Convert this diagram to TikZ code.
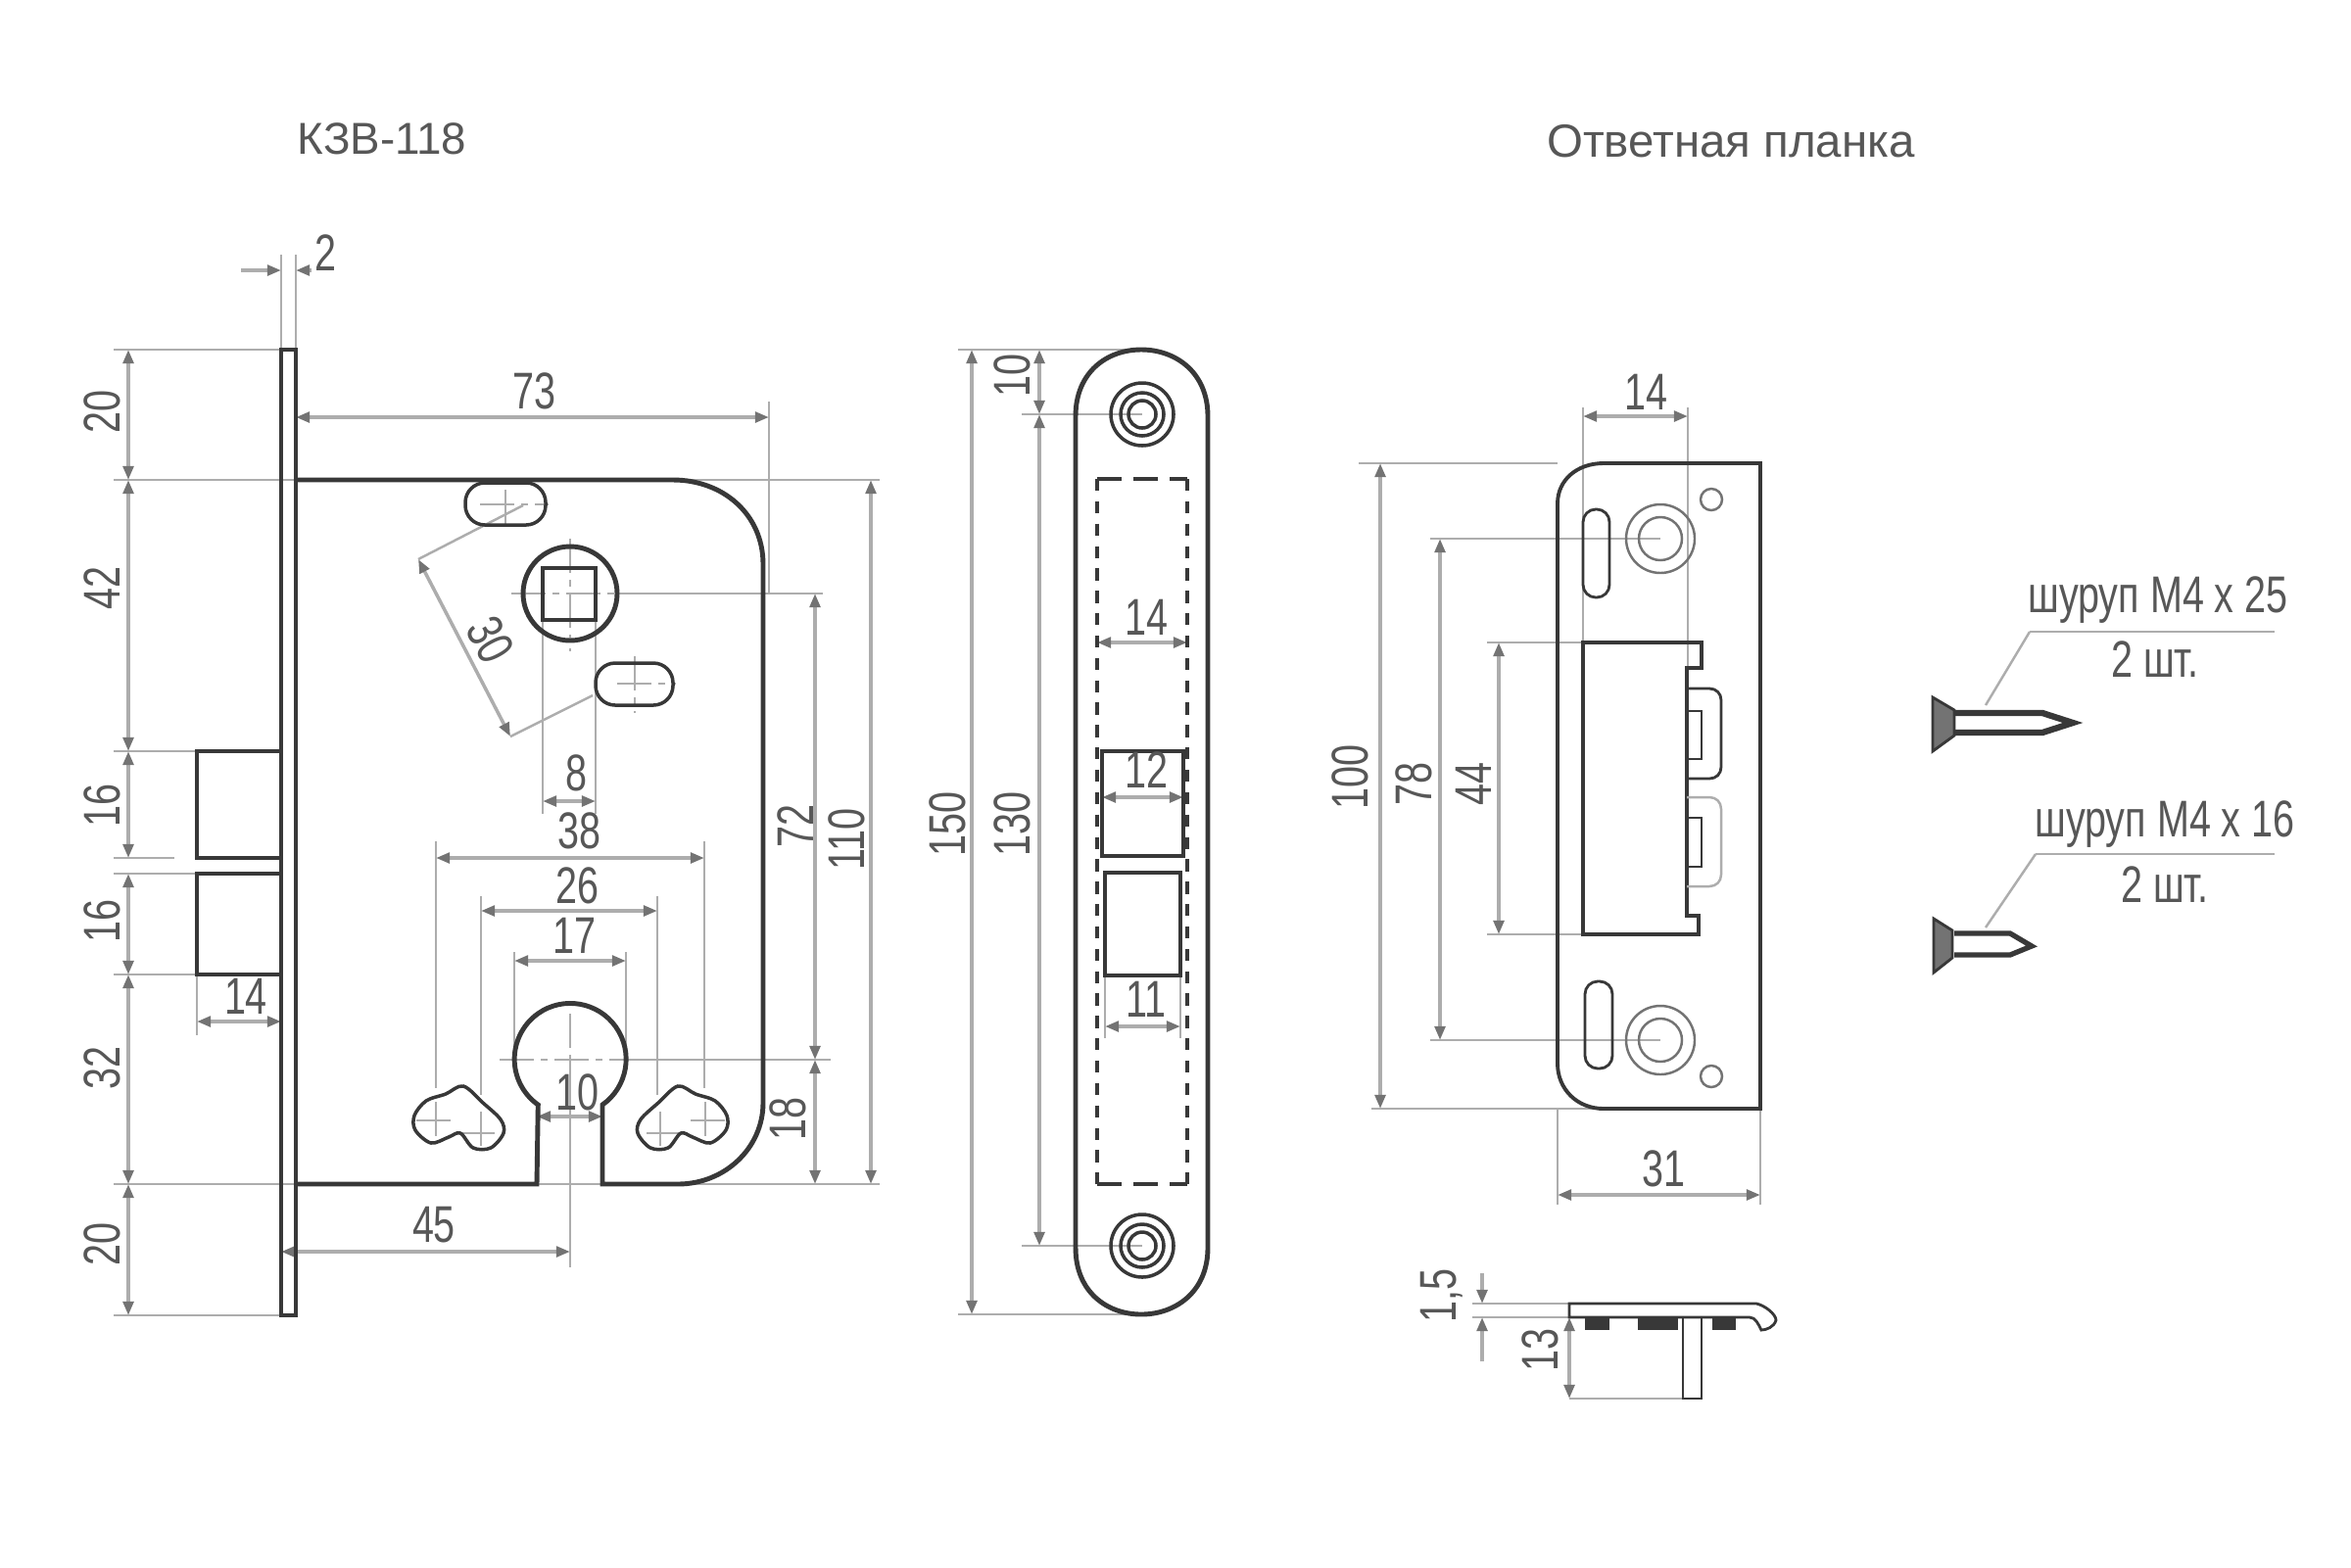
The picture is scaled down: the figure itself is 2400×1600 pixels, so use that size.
\documentclass[tikz,border=0pt]{standalone}
\usepackage{fontspec}
\setmainfont{Liberation Sans}[FakeStretch=0.75]
\newfontfamily\titlefont{Liberation Sans}
\usetikzlibrary{arrows.meta}
\definecolor{inkgray}{gray}{0.22}
\definecolor{dimgray}{gray}{0.68}
\definecolor{tipgray}{gray}{0.45}
\definecolor{labelgray}{gray}{0.34}
\tikzset{
  outline/.style={draw=inkgray,line width=1.4pt},
  fineline/.style={draw=inkgray,line width=0.8pt},
  extline/.style={draw=dimgray,line width=0.7pt},
  dimline/.style={draw=dimgray,line width=1pt,
    {Triangle[length=4pt,width=3pt,color=tipgray]}-{Triangle[length=4pt,width=3pt,color=tipgray]}},
  oneway/.style={draw=dimgray,line width=1pt,-{Triangle[length=4pt,width=3pt,color=tipgray]}},
  axisline/.style={draw=dimgray,line width=0.5pt,dash pattern=on 10pt off 2pt on 2pt off 2pt},
  sidelabel/.style={rotate=90}
}
\begin{document}
\begin{tikzpicture}
[x=0.1mm,y=-0.1mm,every node/.style={text=labelgray,inner sep=0pt,font=\fontsize{15}{15}\selectfont}]
  \useasboundingbox (0,0) rectangle (2400,1600);
  \fill[white] (0,0) rectangle (2400,1600);

  % titles
  \node (title1) at (390,142) {\titlefont\fontsize{13}{14}\selectfont КЗВ-118};
  \node (title2) at (1767,144) {\titlefont\fontsize{13.5}{14}\selectfont Ответная планка};

  % extension lines
  \foreach \ax/\ay/\bx/\by in {
    287/260/287/357, 302/260/302/357, 785/410/785/606,
    116/357/287/357, 116/490/898/490, 116/767/201/767, 116/876/178/876,
    116/892/201/892, 116/995/201/995, 116/1209/898/1209, 116/1343/287/1343,
    630/606/840/606, 640/1082/848/1082,
    554/633/554/831, 608/633/608/831,
    445/859/445/1111, 719/859/719/1111, 491/915/491/1118, 671/915/671/1118,
    525/972/525/1082, 639/972/639/1082, 582/1082/582/1294, 201/995/201/1057,
    427/571/534/516, 521/752/605/710,
    978/357/1165/357, 978/1342/1165/1342, 1043/423/1166/423, 1043/1272/1166/1272,
    1128/996/1128/1060, 1205/996/1205/1060,
    1616/416/1616/656, 1723/416/1723/703, 1387/473/1590/473, 1400/1132/1640/1132,
    1460/550/1695/550, 1460/1062/1695/1062, 1518/656/1616/656, 1518/954/1616/954,
    1590/1132/1590/1230, 1797/1132/1797/1230,
    1503/1331/1602/1331, 1503/1345/1602/1345, 1602/1428/1718/1428,
    2027/720/2072/645, 2072/645/2322/645, 2027/947/2078/872, 2078/872/2322/872}
    \draw[extline] (\ax,\ay) -- (\bx,\by);

  % centre lines
  \foreach \ax/\ay/\bx/\by in {
    516/500/516/540, 490/515/560/515, 648/670/648/728, 630/698/690/698,
    582/550/582/665, 522/606/640/606, 510/1082/650/1082, 582/1035/582/1082,
    425/1144/465/1144, 445/1125/445/1165, 470/1157/512/1157, 491/1135/491/1175,
    740/1144/700/1144, 720/1125/720/1165, 695/1157/653/1157, 674/1135/674/1175}
    \draw[axisline] (\ax,\ay) -- (\bx,\by);

  % dimension lines
  \foreach \ax/\ay/\bx/\by in {
    131/357/131/490, 131/490/131/767, 131/767/131/876, 131/892/131/995,
    131/995/131/1209, 131/1209/131/1343,
    302/426/785/426, 427/571/521/752, 554/818/608/818, 445/876/719/876,
    491/930/671/930, 525/981/639/981, 548/1140/615/1140, 201/1043/287/1043,
    287/1278/582/1278, 832/606/832/1082, 832/1082/832/1209, 889/490/889/1209,
    992/357/992/1342, 1061/357/1061/423, 1061/423/1061/1272, 1120/656/1212/656,
    1125/814/1208/814, 1128/1048/1205/1048,
    1616/425/1723/425, 1409/473/1409/1132, 1470/550/1470/1062, 1530/656/1530/954,
    1590/1220/1797/1220, 1602/1345/1602/1428}
    \draw[dimline] (\ax,\ay) -- (\bx,\by);
  \foreach \ax/\ay/\bx/\by in {
    246/276/287/276, 318/276/302/276, 1513/1300/1513/1331, 1513/1390/1513/1345}
    \draw[oneway] (\ax,\ay) -- (\bx,\by);

  % lock case
  \draw[outline] (287,357) rectangle (302,1343);
  \draw[outline] (302,490) -- (687,490) .. controls (738,490) and (779,525) .. (779,576)
    -- (779,1126) .. controls (779,1172) and (740,1209) .. (692,1209) -- (615,1209) -- (615,1128)
    arc[start angle=54.8,end angle=-234.8,radius=57] -- (548,1209) -- (302,1209);
  \draw[outline,line width=1.1pt] (287,767) -- (201,767) -- (201,876) -- (287,876);
  \draw[outline,line width=1.1pt] (287,892) -- (201,892) -- (201,995) -- (287,995);
  \draw[outline] (582,606) circle[radius=48];
  \draw[outline] (554,580) rectangle (608,633);
  \foreach \ax/\ay/\bx/\by in {475/493/557/536, 608/677/687/720}
    \draw[fineline,line width=1pt,rounded corners=2mm] (\ax,\ay) rectangle (\bx,\by);
  \draw[fineline,line width=1pt] plot[smooth cycle,tension=0.55] coordinates {
    (473,1109) (493,1126) (511,1143) (514,1157) (501,1172) (483,1172) (470,1157)
    (458,1161) (440,1167) (424,1154) (423,1139) (435,1124) (455,1117)};
  \draw[fineline,line width=1pt] plot[smooth cycle,tension=0.55] coordinates {
    (692,1109) (672,1126) (654,1143) (651,1157) (664,1172) (682,1172) (695,1157)
    (707,1161) (725,1167) (741,1154) (742,1139) (730,1124) (710,1117)};

  % face plate
  \draw[outline] (1098,425) .. controls (1098,380) and (1130,357) .. (1165,357)
    .. controls (1200,357) and (1233,380) .. (1233,425) -- (1233,1274)
    .. controls (1233,1319) and (1200,1342) .. (1165,1342)
    .. controls (1130,1342) and (1098,1319) .. (1098,1274) -- cycle;
  \foreach \hy in {423,1272}
    \foreach \hr in {32,22,14}
      \draw[fineline,line width=1pt] (1166,\hy) circle[radius=\hr];
  \foreach \dx in {1120,1212}
    \draw[fineline,line width=1.1pt,dash pattern=on 3.5pt off 3pt] (\dx,489) -- (\dx,1209);
  \foreach \dy in {489,1209}
    \draw[fineline,line width=1pt,dash pattern=on 7pt off 3.5pt] (1120,\dy) -- (1212,\dy);
  \draw[fineline,line width=1.1pt] (1125,767) rectangle (1208,874);
  \draw[fineline,line width=1.1pt] (1128,891) rectangle (1205,996);

  % strike plate
  \draw[fineline,line width=1.1pt] (1797,473) -- (1637,473) .. controls (1610,473) and (1590,490) .. (1590,514)
    -- (1590,1086) .. controls (1590,1112) and (1610,1132) .. (1637,1132) -- (1797,1132) -- cycle;
  \foreach \ax/\ay/\bx/\by in {1616/520/1643/610, 1618/1002/1646/1091}
    \draw[fineline,rounded corners=1.3mm] (\ax,\ay) rectangle (\bx,\by);
  \foreach \hy in {550,1062} {
    \draw[draw=tipgray,line width=0.7pt] (1695,\hy) circle[radius=35];
    \draw[draw=tipgray,line width=0.7pt] (1695,\hy) circle[radius=22];
  }
  \foreach \hy in {510,1099}
    \draw[draw=tipgray,line width=0.7pt] (1747,\hy) circle[radius=11];
  \draw[outline,line width=1.1pt] (1616,656) -- (1737,656) -- (1737,682) -- (1722,682) -- (1722,935)
    -- (1734,935) -- (1734,954) -- (1616,954) -- cycle;
  \draw[fineline] (1722,703) -- (1745,703) .. controls (1752,703) and (1757,708) .. (1757,715)
    -- (1757,783) .. controls (1757,790) and (1752,795) .. (1745,795) -- (1722,795);
  \draw[extline] (1722,814) -- (1745,814) .. controls (1752,814) and (1757,819) .. (1757,826)
    -- (1757,893) .. controls (1757,900) and (1752,905) .. (1745,905) -- (1722,905);
  \foreach \ay/\by in {726/775, 835/885}
    \draw[fineline] (1722,\ay) rectangle (1737,\by);

  % side view
  \draw[fineline] (1602,1345) -- (1602,1331) -- (1793,1331) .. controls (1802,1333) and (1813,1342) .. (1813,1348)
    .. controls (1811,1355) and (1803,1358) .. (1798,1358) .. controls (1795,1352) and (1792,1345) .. (1786,1345) -- cycle;
  \foreach \ax/\bx in {1618/1643, 1672/1713, 1748/1772}
    \fill[inkgray] (\ax,1345) rectangle (\bx,1358);
  \draw[fineline] (1718,1345) rectangle (1737,1428);

  % screws
  \draw[outline,line width=1.8pt] (1995,728) -- (2085,728) -- (2116,738) -- (2085,748) -- (1995,748);
  \draw[outline,fill=tipgray,line width=0.8pt] (1973,712) -- (1995,725) -- (1995,751) -- (1973,767) -- cycle;
  \draw[outline,line width=1.5pt] (1995,953) -- (2052,953) -- (2074,966) -- (2052,975) -- (1995,975);
  \draw[outline,fill=tipgray,line width=0.8pt] (1974,938) -- (1993,950) -- (1993,978) -- (1974,993) -- cycle;

  % horizontal labels
  \foreach \lname/\lx/\ly/\ltext in {
    l2/332/258/2, l73/545/399/73, l8/588/789/8, l38/591/848/38, l26/589/904/26,
    l17/586/955/17, l10/589/1115/10, l14a/251/1017/14, l45/443/1251/45,
    l14b/1170/630/14, l12/1170/786/12, l11/1170/1020/11, l14c/1680/400/14, l31/1698/1193/31,
    s1/2203/613/шуруп М4 х 25, c1/2200/673/2 шт., s2/2210/842/шуруп М4 х 16, c2/2210/903/2 шт.}
    \node (\lname) at (\lx,\ly) {\ltext};

  % rotated labels
  \foreach \lname/\lx/\ly/\ltext in {
    v20a/104/420/20, v42/104/600/42, v16a/104/822/16, v16b/104/940/16, v32/104/1090/32,
    v20b/104/1270/20, v72/812/843/72, v18/804/1142/18, v110/864/857/110,
    v150/967/841/150, v130/1033/841/130, v10/1033/383/10,
    v100/1378/793/100, v78/1443/800/78, v44/1504/800/44, v13/1572/1378/13}
    \node[sidelabel] (\lname) at (\lx,\ly) {\ltext};
  \node[sidelabel] (v15) at (1472,1323) {1,5};
  \node[rotate=-62] (v30) at (501,653) {30};
\end{tikzpicture}
\end{document}
